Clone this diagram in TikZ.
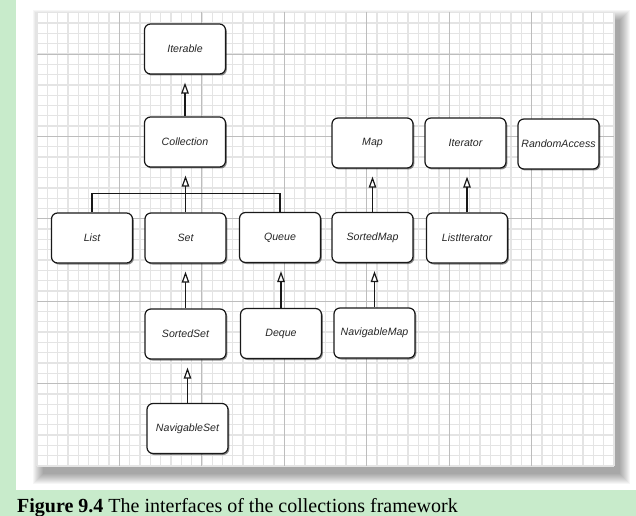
\documentclass[tikz,border=0pt]{standalone}
\usepackage{fontspec}
\setmainfont{Liberation Serif}
\newfontfamily\boxfont{Liberation Sans}
\usetikzlibrary{arrows.meta,shadows}
\definecolor{pagegreen}{HTML}{C8EBCB}
\definecolor{minorgrid}{HTML}{E4E4E4}
\definecolor{majorgrid}{HTML}{BDBDBD}
\tikzset{
  iface/.style={draw=black!90, line width=1.2bp, fill=white, rounded corners=6bp,
    minimum width=81bp, minimum height=50bp, inner sep=0pt,
    font=\boxfont\itshape\fontsize{10.6bp}{12bp}\selectfont, text=black!85,
    drop shadow={shadow xshift=1.3bp, shadow yshift=-1.5bp, opacity=0.45, fill=black}},
  inherit/.style={line width=1.2bp, draw=black!90,
    -{Triangle[open, length=11bp, width=7.5bp, fill=white]}, shorten >=8bp},
  plain/.style={line width=1.2bp, draw=black!90},
  minorline/.style={draw=minorgrid, line width=1.3bp},
  majorline/.style={draw=majorgrid, line width=0.8bp}
}
\begin{document}
\begin{tikzpicture}[x=1bp,y=-1bp]
\useasboundingbox (0,0) rectangle (636,516);
% page background
\fill[white] (0,0) rectangle (636,490);
\fill[pagegreen] (0,0) rectangle (16,490);
\fill[pagegreen] (0,490) rectangle (636,516);
% paper shadow
\foreach \r in {0,...,10}
  \fill[black, opacity=0.035] ({43-\r},{20-\r}) rectangle ({620+\r},{474+\r});
% paper
\fill[white] (37,12) rectangle (614,466);
\foreach \k in {0,...,56}
  \draw[minorline] ({37+\k*10.304},12) -- ({37+\k*10.304},466);
\foreach \j in {-4,...,40}
  \draw[minorline] (37,{54+\j*10.3}) -- (614,{54+\j*10.3});
\foreach \k in {1,...,6}
  \draw[majorline] ({37+\k*82.43},12) -- ({37+\k*82.43},466);
\foreach \j in {0,...,4}
  \draw[majorline] (37,{54+\j*82.4}) -- (614,{54+\j*82.4});
% interfaces
\node[iface] (iterable) at (185,49) {Iterable};
\node[iface] (collection) at (185,142) {Collection};
\node[iface] (list) at (92,238) {List};
\node[iface] (set) at (185.5,238) {Set};
\node[iface] (queue) at (280,237.5) {Queue};
\node[iface] (sortedset) at (185.5,334) {SortedSet};
\node[iface] (deque) at (281,333.5) {Deque};
\node[iface] (navset) at (187.5,428.5) {NavigableSet};
\node[iface] (map) at (372.5,143) {Map};
\node[iface] (iterator) at (465.5,143) {Iterator};
\node[iface] (randomaccess) at (558.5,144) {RandomAccess};
\node[iface] (sortedmap) at (372.5,237.5) {SortedMap};
\node[iface] (listiter) at (467,238) {ListIterator};
\node[iface] (navmap) at (374.5,333) {NavigableMap};
% connectors
\draw[inherit] (collection.north) -- (iterable.south);
\draw[plain] (list.north) -- ++(0,-19) -| (queue.north);
\draw[inherit] (set.north) -- (set.north |- collection.south);
\draw[inherit] (sortedset.north) -- (set.south);
\draw[inherit] (deque.north) -- (deque.north |- queue.south);
\draw[inherit] (navset.north) -- (navset.north |- sortedset.south);
\draw[inherit] (sortedmap.north) -- (map.south);
\draw[inherit] (listiter.north) -- (listiter.north |- iterator.south);
\draw[inherit] (navmap.north) -- (navmap.north |- sortedmap.south);
% caption
\node[anchor=base west, inner sep=0pt, font=\fontsize{20bp}{24bp}\selectfont] (caption) at (17,512)
  {\textbf{Figure 9.4} The interfaces of the collections framework};
\end{tikzpicture}
\end{document}
